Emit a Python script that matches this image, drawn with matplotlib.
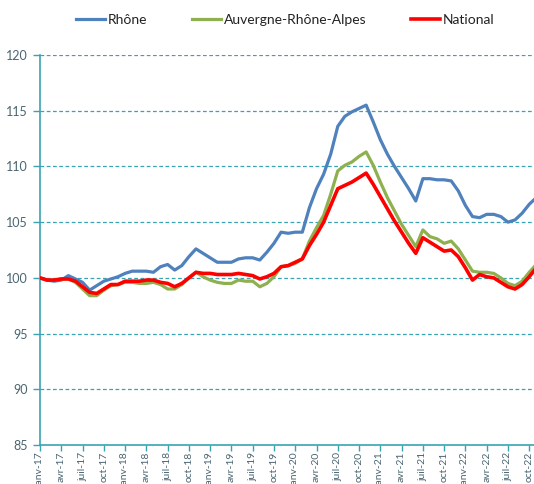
import matplotlib
matplotlib.use("Agg")
import matplotlib.pyplot as plt

plt.rcParams["font.family"] = ["Lato", "DejaVu Sans"]

# Indices mensuels, base 100 = janvier 2017 (janv-17 .. nov-22)
RHONE = [100.0, 99.8, 99.7, 99.8, 100.2, 99.9, 99.6, 98.9, 99.3, 99.7,
         99.9, 100.1, 100.4, 100.6, 100.6, 100.6, 100.5, 101.0, 101.2, 100.7,
         101.1, 101.9, 102.6, 102.2, 101.8, 101.4, 101.4, 101.4, 101.7, 101.8,
         101.8, 101.6, 102.3, 103.1, 104.1, 104.0, 104.1, 104.1, 106.3, 108.0,
         109.3, 111.1, 113.6, 114.5, 114.9, 115.2, 115.5, 114.0, 112.4, 111.1,
         110.0, 109.0, 108.0, 106.9, 108.9, 108.9, 108.8, 108.8, 108.7, 107.8,
         106.5, 105.5, 105.4, 105.7, 105.7, 105.5, 105.0, 105.2, 105.8, 106.6,
         107.2]
ARA = [100.0, 99.8, 99.8, 99.9, 99.9, 99.6, 99.0, 98.4, 98.4, 98.9,
       99.3, 99.4, 99.6, 99.6, 99.5, 99.5, 99.6, 99.4, 99.0, 99.0,
       99.4, 100.0, 100.5, 100.1, 99.8, 99.6, 99.5, 99.5, 99.8, 99.7,
       99.7, 99.2, 99.5, 100.1, 101.0, 101.1, 101.3, 101.7, 103.3, 104.5,
       105.6, 107.5, 109.6, 110.1, 110.4, 110.9, 111.3, 110.1, 108.6, 107.2,
       106.0, 104.8, 103.8, 102.8, 104.3, 103.7, 103.5, 103.1, 103.3, 102.6,
       101.6, 100.6, 100.5, 100.5, 100.4, 100.0, 99.5, 99.3, 99.7, 100.5,
       101.2]
NATIONAL = [100.0, 99.8, 99.8, 99.9, 99.9, 99.7, 99.2, 98.7, 98.6, 99.0,
            99.4, 99.4, 99.7, 99.7, 99.7, 99.8, 99.8, 99.6, 99.5, 99.2,
            99.5, 100.0, 100.5, 100.4, 100.4, 100.3, 100.3, 100.3, 100.4, 100.3,
            100.2, 99.9, 100.1, 100.4, 101.0, 101.1, 101.4, 101.7, 102.9, 103.9,
            105.0, 106.5, 108.0, 108.3, 108.6, 109.0, 109.4, 108.4, 107.3, 106.2,
            105.1, 104.1, 103.1, 102.2, 103.6, 103.2, 102.8, 102.4, 102.5, 101.9,
            100.9, 99.8, 100.3, 100.1, 100.0, 99.6, 99.2, 99.0, 99.4, 100.1,
            100.9]

MOIS = ["janv", "avr", "juil", "oct"]
ANNEES = ["17", "18", "19", "20", "21", "22"]
TICK_LABELS = [f"{m}-{a}" for a in ANNEES for m in MOIS]

TEAL = "#3AA3B3"
TXT = "#4a6570"

x = list(range(len(RHONE)))

fig = plt.figure(figsize=(5.34, 4.84), dpi=100)
ax = fig.add_axes([40 / 534, 1 - 445 / 484, 494 / 534, 390 / 484])

ax.plot(x, RHONE, color="#4F81BD", lw=2.3, label="Rhône", zorder=3)
ax.plot(x, ARA, color="#8EB04F", lw=2.3, label="Auvergne-Rhône-Alpes", zorder=4)
ax.plot(x, NATIONAL, color="#FF0000", lw=2.6, label="National", zorder=5)

ax.set_ylim(85, 120)
ax.set_xlim(0, 494 / 7.09)
ax.set_yticks(range(85, 121, 5))
ax.set_xticks(range(0, 3 * len(TICK_LABELS), 3))
ax.set_xticklabels(TICK_LABELS, rotation=90, fontsize=7.5, color=TXT)
ax.tick_params(axis="y", labelsize=9, labelcolor=TXT, color=TEAL, length=5, width=1)
ax.tick_params(axis="x", color=TEAL, length=4, width=1, pad=1)

for v in range(90, 121, 5):
    ax.axhline(v, color=TEAL, lw=0.9, ls=(0, (3, 2)), zorder=1)

for s in ["top", "right"]:
    ax.spines[s].set_visible(False)
for s in ["left", "bottom"]:
    ax.spines[s].set_color(TEAL)
    ax.spines[s].set_linewidth(1.2)

fig.legend(loc="center", bbox_to_anchor=(285 / 534, 1 - 20 / 484), ncol=3,
           frameon=False, fontsize=10, handlelength=2.1, handletextpad=0.2,
           columnspacing=3.2, labelcolor="#222222")

plt.savefig("out.png", dpi=100)
